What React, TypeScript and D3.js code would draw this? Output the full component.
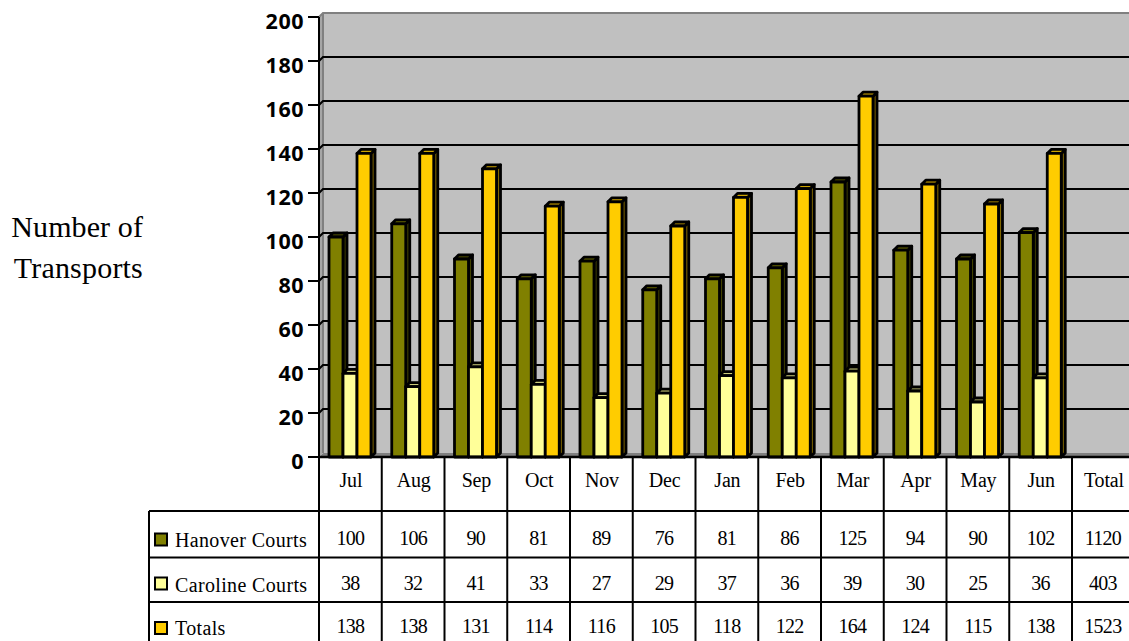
import React from "react";
import * as d3 from "d3";

const categories = ["Jul", "Aug", "Sep", "Oct", "Nov", "Dec", "Jan", "Feb", "Mar", "Apr", "May", "Jun"];
const hanover = [100, 106, 90, 81, 89, 76, 81, 86, 125, 94, 90, 102];
const caroline = [38, 32, 41, 33, 27, 29, 37, 36, 39, 30, 25, 36];
const totals = [138, 138, 131, 114, 116, 105, 118, 122, 164, 124, 115, 138];
const grandTotals = [1120, 403, 1523];
const seriesNames = ["Hanover Courts", "Caroline Courts", "Totals"];
const seriesValues = [hanover, caroline, totals];
const yTicks = d3.range(0, 201, 20);
const seriesColors = [
  { front: "#808000", top: "#666600", side: "#404000" },
  { front: "#FFFF99", top: "#CCCC7A", side: "#80804D" },
  { front: "#FFCC00", top: "#CCA300", side: "#806600" },
];

const W = 1129, H = 641;
const axisX = 319, baseY = 457, topY = 17;
const depth = 4;
const colW = 62.75;
const serif = "'Liberation Serif', serif";
const sans = "'Open Sans', sans-serif";

export default function App() {
  const y = d3.scaleLinear().domain([0, 200]).range([baseY, topY]);
  const x = d3.scaleBand<string>()
    .domain([...categories, "Total"])
    .range([axisX, axisX + colW * 13])
    .paddingInner(0).paddingOuter(0);
  const inner = d3.scaleBand<number>().domain([0, 1, 2]).range([10, 52]);
  const rowLines = [511, 557.5, 602, 645];
  const headerBase = 487;
  const valueBase = [545, 590, 633];
  const labelBase = [547, 592, 635];
  const swatchTop = [533.5, 577.5, 622];
  const rightEdge = W + 10;

  const wall = `M${axisX + depth},${topY - depth}H${rightEdge}V${baseY - depth}H${axisX + depth}Z`;
  const leftWall = `M${axisX},${topY}L${axisX + depth},${topY - depth}V${baseY - depth}L${axisX},${baseY}Z`;
  const floor = `M${axisX},${baseY}L${axisX + depth},${baseY - depth}H${rightEdge}V${baseY}Z`;

  return (
    <svg width={W} height={H} viewBox={`0 0 ${W} ${H}`}
      style={{ position: "fixed", left: 0, top: 0, background: "#fff", display: "block" }}>
      <path d={wall} fill="#C0C0C0" />
      <path d={leftWall} fill="#A6A6A6" />
      <path d={floor} fill="#808080" />
      <path d={`M${axisX},${topY}L${axisX + depth},${topY - depth}H${rightEdge}`} fill="none" stroke="#808080" strokeWidth={2} />
      <path d={`M${axisX + depth},${topY - depth}V${baseY - depth}`} stroke="#808080" strokeWidth={2} fill="none" />

      {yTicks.filter((t) => t > 0 && t < 200).map((t) => (
        <path key={t} d={`M${axisX},${y(t)}L${axisX + depth},${y(t) - depth}H${rightEdge}`} fill="none" stroke="#000" strokeWidth={2} />
      ))}

      {categories.map((c, i) =>
        seriesValues.map((vals, s) => {
          const bx = x(c)! + inner(s)!;
          const bw = inner.bandwidth();
          const ty = y(vals[i]);
          const col = seriesColors[s];
          return (
            <g key={c + s} stroke="#000" strokeWidth={2.8} strokeLinejoin="round">
              <path d={`M${bx + bw},${baseY}L${bx + bw + depth},${baseY - depth}V${ty - depth}L${bx + bw},${ty}Z`} fill={col.side} />
              <path d={`M${bx},${ty}L${bx + depth},${ty - depth}H${bx + bw + depth}L${bx + bw},${ty}Z`} fill={col.top} />
              <rect x={bx} y={ty} width={bw} height={baseY - ty} fill={col.front} />
            </g>
          );
        })
      )}

      <line x1={axisX} x2={axisX} y1={topY} y2={baseY} stroke="#000" strokeWidth={2} />
      {yTicks.map((t) => (
        <g key={t}>
          <line x1={axisX - 11} x2={axisX} y1={y(t)} y2={y(t)} stroke="#000" strokeWidth={2} />
          <text x={axisX - 15} y={y(t) + 12} textAnchor="end" fontFamily={sans} fontWeight={700} fontSize={21.5} letterSpacing={0.5} fill="#000">{t}</text>
        </g>
      ))}

      <text x={143} y={236.5} textAnchor="end" fontFamily={serif} fontSize={30} letterSpacing={0.1} fill="#000">Number of</text>
      <text x={143} y={278} textAnchor="end" fontFamily={serif} fontSize={30} letterSpacing={0.2} fill="#000">Transports</text>

      <line x1={axisX} x2={rightEdge} y1={baseY} y2={baseY} stroke="#000" strokeWidth={2.6} />
      {rowLines.map((ly) => (
        <line key={ly} x1={149} x2={rightEdge} y1={ly} y2={ly} stroke="#000" strokeWidth={2} />
      ))}
      <line x1={149} x2={149} y1={511} y2={H} stroke="#000" strokeWidth={2} />
      {x.domain().map((c) => (
        <line key={c} x1={x(c)!} x2={x(c)!} y1={baseY} y2={H} stroke="#000" strokeWidth={2} />
      ))}

      {x.domain().map((c) => (
        <text key={c} x={x(c)! + x.bandwidth() / 2 + 0.5} y={headerBase} textAnchor="middle" fontFamily={serif} fontSize={20} letterSpacing={-0.2} fill="#000">{c}</text>
      ))}

      {seriesNames.map((name, s) => (
        <g key={name}>
          <rect x={155} y={swatchTop[s]} width={12} height={12} fill={seriesColors[s].front} stroke="#000" strokeWidth={2} />
          <text x={175} y={labelBase[s]} fontFamily={serif} fontSize={20} letterSpacing={0.35} fill="#000">{name}</text>
          {seriesValues[s].map((v, i) => (
            <text key={i} x={x(categories[i])! + x.bandwidth() / 2} y={valueBase[s]} textAnchor="middle" fontFamily={serif} fontSize={20} letterSpacing={-0.7} fill="#000">{v}</text>
          ))}
          <text x={x("Total")! + x.bandwidth() / 2 - 0.5} y={valueBase[s]} textAnchor="middle" fontFamily={serif} fontSize={20} letterSpacing={-0.7} fill="#000">{grandTotals[s]}</text>
        </g>
      ))}
    </svg>
  );
}
